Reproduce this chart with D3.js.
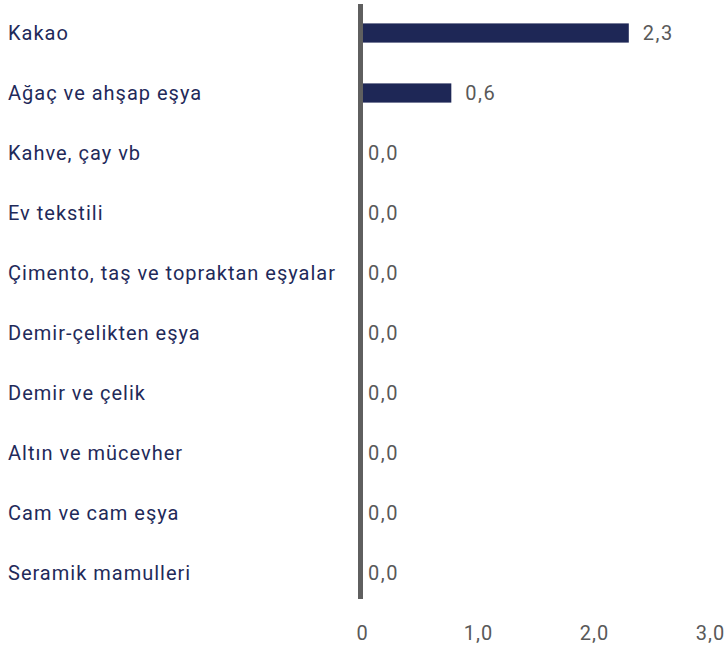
<!DOCTYPE html>
<html><head><meta charset="utf-8">
<script src="https://cdn.jsdelivr.net/npm/d3@7"></script>
<style>body{margin:0;background:#fff}svg{display:block}text{font-family:Roboto,"Noto Sans",sans-serif}</style>
</head><body><svg id="c" width="725" height="651"></svg>
<script>
const categories = ["Kakao","Ağaç ve ahşap eşya","Kahve, çay vb","Ev tekstili","Çimento, taş ve topraktan eşyalar","Demir-çelikten eşya","Demir ve çelik","Altın ve mücevher","Cam ve cam eşya","Seramik mamulleri"];
const values = [2.3, 0.77, 0, 0, 0, 0, 0, 0, 0, 0];
const valueLabels = ["2,3","0,6","0,0","0,0","0,0","0,0","0,0","0,0","0,0","0,0"];
const tickValues = [0, 1, 2, 3];
const tickLabels = ["0","1,0","2,0","3,0"];

const svg = d3.select("#c");
const x = d3.scaleLinear().domain([0,3]).range([362,710]);
const y = d3.scaleBand().domain(categories).range([3,603]).paddingInner(0.68).paddingOuter(0.34);
const navy = "#1e2756", gray = "#5f5f5f";

svg.selectAll("rect.bar").data(categories).join("rect").attr("class","bar")
  .attr("x", x(0)).attr("y", d => y(d))
  .attr("width", (d,i) => x(values[i]) - x(0)).attr("height", y.bandwidth())
  .attr("fill", navy);

svg.append("rect").attr("x", 358).attr("y", 4).attr("width", 5).attr("height", 595).attr("fill", gray);

svg.selectAll("text.cat").data(categories).join("text").attr("class","cat")
  .attr("x", 8).attr("y", d => y(d) + y.bandwidth()/2).attr("dy","0.36em")
  .attr("fill", "#1f2a5a").attr("font-size", 20).attr("letter-spacing", 1).text(d => d);

svg.selectAll("text.val").data(categories).join("text").attr("class","val")
  .attr("x", (d,i) => x(values[i]) + (values[i] > 0 ? 14 : 6))
  .attr("y", d => y(d) + y.bandwidth()/2).attr("dy","0.36em")
  .attr("fill", "#595959").attr("font-size", 20).attr("letter-spacing", 1.5).text((d,i) => valueLabels[i]);

const ax = svg.append("g").attr("transform","translate(0,633)")
  .call(d3.axisBottom(x).tickValues(tickValues).tickFormat((d,i) => tickLabels[i]).tickSize(0).tickPadding(0));
ax.select(".domain").remove();
ax.selectAll("text").attr("font-size", 20).attr("letter-spacing", 1).attr("fill", "#595959").attr("dy","0.36em").style("font-family","Roboto,sans-serif");
</script></body></html>
